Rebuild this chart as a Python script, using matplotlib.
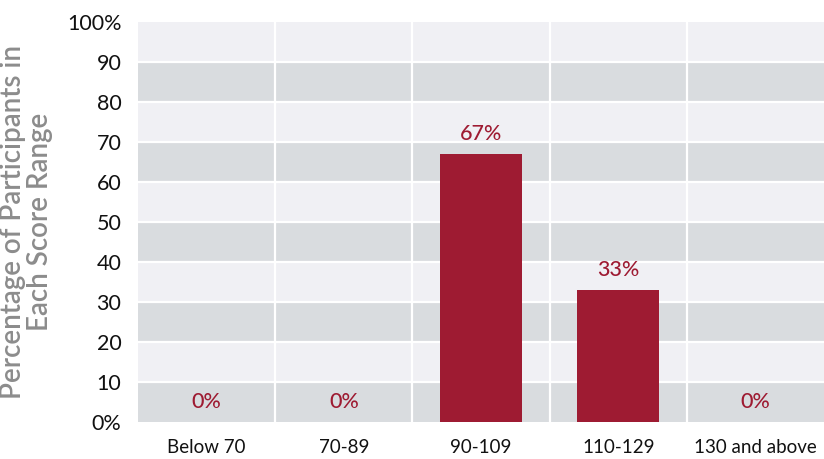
import matplotlib
matplotlib.use("Agg")
import matplotlib.pyplot as plt
import numpy as np

categories = ["Below 70", "70-89", "90-109", "110-129", "130 and above"]
values = [0, 0, 67, 33, 0]
value_labels = ["0%", "0%", "67%", "33%", "0%"]
yticks = [0, 10, 20, 30, 40, 50, 60, 70, 80, 90, 100]
ytick_labels = ["0%", "10", "20", "30", "40", "50", "60", "70", "80", "90", "100%"]

plt.rcParams['font.family'] = ['Lato', 'DejaVu Sans']

fig = plt.figure(figsize=(8.24, 4.59), dpi=100)
ax = fig.add_axes([0.1675, 0.0806, 0.8325, 0.8714])

n = len(categories)
ax.set_xlim(-0.5, n - 0.5)
ax.set_ylim(0, 100)

dark = "#d9dcdf"
light = "#f0f0f4"
for i in range(10):
    ax.axhspan(i * 10, (i + 1) * 10, color=dark if i % 2 == 0 else light, zorder=0, lw=0)
for y in yticks[1:-1]:
    ax.axhline(y, color="white", lw=1.6, zorder=1)
for k in range(n - 1):
    ax.axvline(k + 0.5, color="white", lw=1.6, zorder=1)

x = np.arange(n)
ax.bar(x, values, width=0.6, color="#9e1b32", zorder=2)
for xi, v, lab in zip(x, values, value_labels):
    ax.text(xi, v + 5, lab, ha="center", va="center", color="#9e1b32", fontsize=15.5,
            fontweight="medium", zorder=3)

ax.set_xticks(x)
ax.set_xticklabels(categories, fontsize=13.5, color="#111111")
ax.set_yticks(yticks)
ax.set_yticklabels(ytick_labels, fontsize=15.5, color="#111111")
ax.tick_params(axis="both", length=0)
ax.tick_params(axis="x", pad=12)
ax.tick_params(axis="y", pad=12)
for s in ax.spines.values():
    s.set_visible(False)

ax.set_ylabel("Percentage of Participants in\nEach Score Range", fontsize=20, color="#8c8c8c",
              fontweight="semibold", linespacing=1.05, labelpad=10)

fig.savefig("out.png", dpi=100)
